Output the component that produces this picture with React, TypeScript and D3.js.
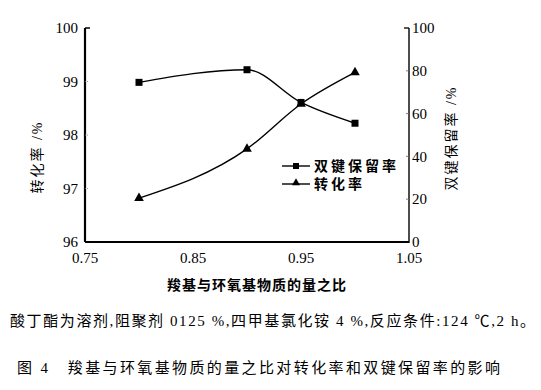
import * as d3 from "d3";

// ratio of carboxyl to epoxy groups
const ratios = [0.8, 0.9, 0.95, 1.0];
// 双键保留率 (right axis, %)
const retention = [74.6, 80.5, 65.2, 55.5];
// 转化率 (left axis, %)
const conversion = [96.82, 97.74, 98.58, 99.17];

const xTicks = [0.75, 0.85, 0.95, 1.05];
const leftTicks = [96, 97, 98, 99, 100];
const rightTicks = [0, 20, 40, 60, 80, 100];

const W = 541;
const H = 390;
const left = 85;
const right = 409;
const top = 28;
const bottom = 242;

const serif = { fontFamily: '"Liberation Serif", "Times New Roman", Tinos, serif' };
const cjk = { fontFamily: '"Liberation Serif", "Times New Roman", "Noto Sans CJK SC", serif' };

export default function App() {
  const x = d3.scaleLinear().domain([0.75, 1.05]).range([left, right]);
  const yL = d3.scaleLinear().domain([96, 100]).range([bottom, top]);
  const yR = d3.scaleLinear().domain([0, 100]).range([bottom, top]);

  const line = d3.line<[number, number]>().curve(d3.curveMonotoneX);
  const retPts: [number, number][] = ratios.map((r, i) => [x(r), yR(retention[i])]);
  const convPts: [number, number][] = ratios.map((r, i) => [x(r), yL(conversion[i])]);

  const tri = d3.symbol(d3.symbolTriangle, 40)();
  const triSmall = d3.symbol(d3.symbolTriangle, 28)();

  return (
    <svg width={W} height={H} style={{ position: "absolute", left: 0, top: 0, background: "#fff" }}>
      {/* axes */}
      <line x1={left} x2={left} y1={top} y2={bottom} stroke="#000" strokeWidth={2.2} />
      <line x1={left} x2={left + 5} y1={top} y2={top} stroke="#000" strokeWidth={1.5} />
      <line x1={left} x2={right} y1={bottom} y2={bottom} stroke="#000" strokeWidth={2.2} />
      <line x1={right} x2={right} y1={top} y2={bottom + 1} stroke="#000" strokeWidth={1.4} />
      <line x1={right} x2={right - 5} y1={top} y2={top} stroke="#000" strokeWidth={1.3} />

      {leftTicks.map(t => (
        <g key={"l" + t}>
          {t !== 100 && t !== 96 && (
            <line x1={left} x2={left + 3} y1={yL(t)} y2={yL(t)} stroke="#777" strokeWidth={0.8} strokeDasharray="1,1" />
          )}
          <text x={left - 7} y={yL(t)} dy="0.35em" textAnchor="end" style={serif} fontSize={15}>
            {t}
          </text>
        </g>
      ))}
      {rightTicks.map(t => (
        <g key={"r" + t}>
          {t !== 100 && t !== 0 && (
            <line x1={right} x2={right - 3} y1={yR(t)} y2={yR(t)} stroke="#666" strokeWidth={0.8} />
          )}
          <text x={right + 3} y={yR(t)} dy="0.35em" textAnchor="start" style={serif} fontSize={15}>
            {t}
          </text>
        </g>
      ))}
      {xTicks.map(t => (
        <text key={"x" + t} x={x(t)} y={bottom + 21} textAnchor="middle" style={serif} fontSize={15}>
          {t.toFixed(2)}
        </text>
      ))}

      {/* axis titles */}
      <text transform={`translate(42,157) rotate(-90)`} textAnchor="middle" style={cjk} fontSize={14} letterSpacing={2}>
        转化率 /%
      </text>
      <text transform={`translate(456,138) rotate(-90)`} textAnchor="middle" style={cjk} fontSize={14} letterSpacing={2}>
        双键保留率 /%
      </text>
      <text x={(left + right) / 2 + 10} y={290} textAnchor="middle" style={cjk} fontSize={14} fontWeight="bold" letterSpacing={1}>
        羧基与环氧基物质的量之比
      </text>

      {/* series */}
      <path d={line(retPts) || ""} fill="none" stroke="#000" strokeWidth={1.4} />
      <path d={line(convPts) || ""} fill="none" stroke="#000" strokeWidth={1.4} />
      {retPts.map((p, i) => (
        <rect key={"s" + i} x={p[0] - 3.5} y={p[1] - 3.5} width={7} height={7} fill="#000" />
      ))}
      {convPts.map((p, i) => (
        <path key={"t" + i} d={tri || ""} transform={`translate(${p[0]},${p[1]})`} fill="#000" />
      ))}

      {/* legend */}
      <line x1={282} x2={310} y1={166} y2={166} stroke="#000" strokeWidth={1.4} />
      <rect x={293} y={163} width={6} height={6} fill="#000" />
      <text x={314} y={166} dy="0.35em" style={cjk} fontSize={14} fontWeight="bold" letterSpacing={3}>
        双键保留率
      </text>
      <line x1={282} x2={310} y1={184} y2={184} stroke="#000" strokeWidth={1.4} />
      <path d={triSmall || ""} transform="translate(296,183)" fill="#000" />
      <text x={314} y={184} dy="0.35em" style={cjk} fontSize={14} fontWeight="bold" letterSpacing={3}>
        转化率
      </text>

      {/* caption */}
      <text x={10} y={326} style={cjk} fontSize={15} textLength={525} lengthAdjust="spacing">
        酸丁酯为溶剂,阻聚剂 0125 %,四甲基氯化铵 4 %,反应条件:124 ℃,2 h。
      </text>
      <text x={17} y={373} style={cjk} fontSize={15} textLength={483} lengthAdjust="spacing">
        图 4　羧基与环氧基物质的量之比对转化率和双键保留率的影响
      </text>
    </svg>
  );
}
